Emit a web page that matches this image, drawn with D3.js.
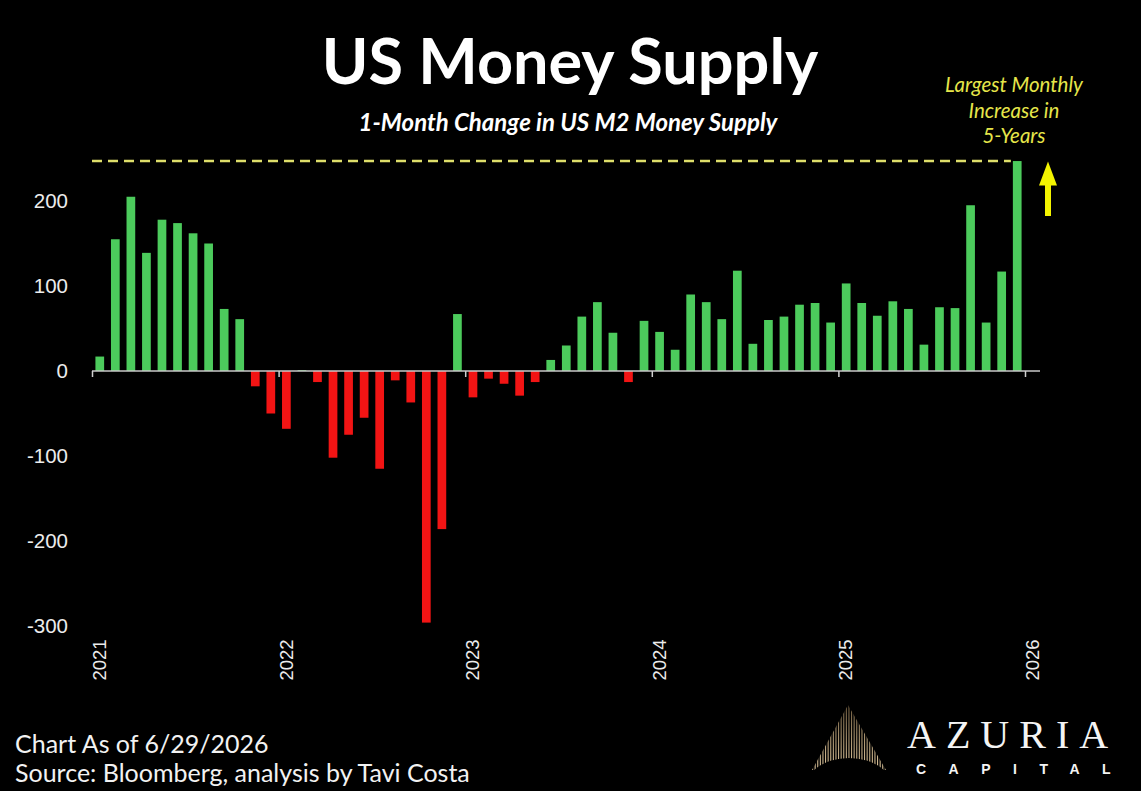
<!DOCTYPE html>
<html>
<head>
<meta charset="utf-8">
<script src="https://cdn.jsdelivr.net/npm/d3@7"></script>
<style>
  html, body { margin: 0; padding: 0; background: #000; }
  svg { display: block; }
</style>
</head>
<body>
<svg id="chart" width="1141" height="791"></svg>
<script>
// 1-month change in US M2 money supply, USD bn, Jan 2021 – Dec 2025
const years = ["2021", "2022", "2023", "2024", "2025", "2026"];
const change2021 = [17, 155, 205, 139, 178, 174, 162, 150, 73, 61, -18, -50];
const change2022 = [-68, 1, -13, -102, -75, -55, -115, -11, -37, -296, -186, 67];
const change2023 = [-31, -9, -15, -29, -13, 13, 30, 64, 81, 45, -13, 59];
const change2024 = [46, 25, 90, 81, 61, 118, 32, 60, 64, 78, 80, 57];
const change2025 = [103, 80, 65, 82, 73, 31, 75, 74, 195, 57, 117, 247];
const yTicks = [-300, -200, -100, 0, 100, 200];

const title = "US Money Supply";
const subtitle = "1-Month Change in US M2 Money Supply";
const noteLines = ["Largest Monthly", "Increase in", "5-Years"];
const footLines = ["Chart As of 6/29/2026", "Source: Bloomberg, analysis by Tavi Costa"];

const byYear = [change2021, change2022, change2023, change2024, change2025];
const data = [];
byYear.forEach((vals, yi) => vals.forEach((v, mi) => {
  data.push({ key: years[yi] + "-" + String(mi + 1).padStart(2, "0"), value: v });
}));
const peak = d3.max(data, d => d.value);

const svg = d3.select("#chart");
const left = 92, right = 1025;

const x = d3.scaleBand().domain(data.map(d => d.key)).range([left, right]).paddingInner(0.44).paddingOuter(0.22);
const xYear = d3.scaleLinear().domain([+years[0], +years[years.length - 1]]).range([left, right]);
const y = d3.scaleLinear().domain([-300, 200]).range([626, 201]);

// titles
svg.append("text").attr("x", 570).attr("y", 84).attr("text-anchor", "middle")
  .attr("fill", "#fff").style("font", "700 63px Lato").text(title);
svg.append("text").attr("x", 568).attr("y", 131).attr("text-anchor", "middle")
  .attr("fill", "#fff").style("font", "italic 700 24px Lato").text(subtitle);

// y axis labels (plain hyphen for negatives)
const yAxis = svg.append("g").attr("transform", "translate(76,0)")
  .call(d3.axisLeft(y).tickValues(yTicks).tickSize(0).tickPadding(8).tickFormat(d => String(d)));
yAxis.select(".domain").remove();
yAxis.selectAll("text").attr("fill", "#ececec").style("font", "20.5px 'Liberation Sans'");

// bars
svg.append("g").selectAll("rect").data(data).join("rect")
  .attr("x", d => x(d.key))
  .attr("width", x.bandwidth())
  .attr("y", d => y(Math.max(0, d.value)))
  .attr("height", d => Math.abs(y(d.value) - y(0)))
  .attr("fill", d => d.value >= 0 ? "#4ccb5c" : "#f21414");

// zero axis with year ticks
const xAxis = svg.append("g").attr("transform", `translate(0,${y(0)})`)
  .call(d3.axisBottom(xYear).tickValues(years.map(Number)).tickSize(6).tickFormat(""));
xAxis.select(".domain").attr("d", `M${left},0H1040`).attr("stroke", "#c8c8c8").attr("stroke-width", 1.6);
xAxis.selectAll(".tick line").attr("stroke", "#d0d0d0").attr("stroke-width", 1.5);

// year labels along the bottom
const yearAxis = svg.append("g").attr("transform", "translate(0,660)")
  .call(d3.axisBottom(xYear).tickValues(years.map(Number)).tickSize(0).tickFormat(d3.format("d")));
yearAxis.select(".domain").remove();
yearAxis.selectAll("text")
  .attr("y", 0).attr("dy", "0.35em")
  .attr("transform", "translate(7,0) rotate(-90)")
  .attr("text-anchor", "middle")
  .attr("fill", "#ececec").style("font", "18.5px 'Liberation Sans'");

// peak reference line
svg.append("line")
  .attr("x1", left).attr("x2", x(data[data.length - 1].key) - 2)
  .attr("y1", y(peak)).attr("y2", y(peak))
  .attr("stroke", "#dede6a").attr("stroke-width", 2.5).attr("stroke-dasharray", "10 6");

// annotation
const note = svg.append("text").attr("text-anchor", "middle").attr("fill", "#e6e64a")
  .style("font", "italic 20.5px Lato");
noteLines.forEach((t, i) => note.append("tspan").attr("x", 1014).attr("y", 92 + i * 25.5).text(t));

// upward arrow
const ax = 1048, aTop = y(peak) + 0.5, aBot = 216;
svg.append("path")
  .attr("d", `M${ax},${aTop} L${ax + 9},${aTop + 24} L${ax + 3},${aTop + 24} L${ax + 3},${aBot} L${ax - 3},${aBot} L${ax - 3},${aTop + 24} L${ax - 9},${aTop + 24} Z`)
  .attr("fill", "#f4f400");

// footer
const foot = svg.append("g").attr("fill", "#f2f2f2").style("font", "25px Lato");
footLines.forEach((t, i) => foot.append("text").attr("x", 15).attr("y", 753 + i * 29).text(t));

// brand mark
const defs = svg.append("defs");
defs.append("clipPath").attr("id", "tri").append("path").attr("d", "M848,705 L812,770 L886,770 Z");
const grad = defs.append("linearGradient").attr("id", "gold").attr("x1", 0).attr("y1", 0).attr("x2", 0).attr("y2", 1);
grad.append("stop").attr("offset", "0%").attr("stop-color", "#6d5a3e");
grad.append("stop").attr("offset", "100%").attr("stop-color", "#e0c89e");
const mark = svg.append("g").attr("clip-path", "url(#tri)");
mark.selectAll("rect").data(d3.range(812, 886, 2.6)).join("rect")
  .attr("x", d => d).attr("y", 705).attr("width", 1.1).attr("height", 66).attr("fill", "url(#gold)");
svg.append("ellipse").attr("cx", 849).attr("cy", 792).attr("rx", 46).attr("ry", 34).attr("fill", "#000");

svg.append("text").attr("x", 907).attr("y", 748).attr("fill", "#f4f4f4")
  .style("font", "40px 'Liberation Serif'").style("letter-spacing", "10px").text("AZURIA");
svg.append("text").attr("x", 916).attr("y", 774).attr("fill", "#f4f4f4")
  .style("font", "700 14px 'Liberation Sans'").style("letter-spacing", "22.5px").text("CAPITAL");
</script>
</body>
</html>
